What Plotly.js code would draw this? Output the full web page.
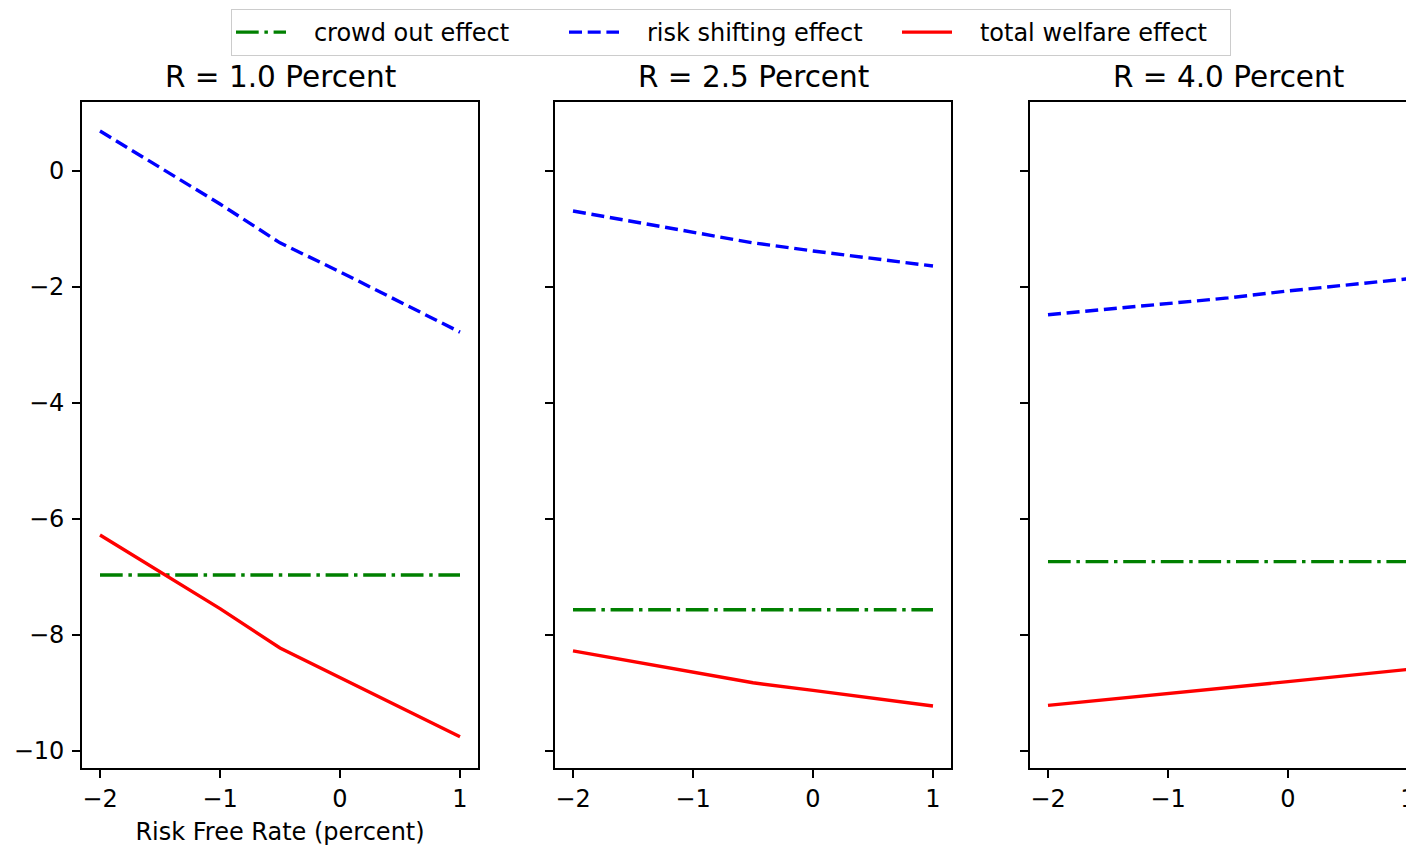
<!DOCTYPE html>
<html>
<head>
<meta charset="utf-8">
<script src="https://cdn.plot.ly/plotly-3.0.1.min.js"></script>
<style>
  html, body { margin: 0; padding: 0; overflow: hidden; background: #ffffff; }
</style>
</head>
<body>
<div id="chart"></div>
<script>
// Risk free rate grid (percent)
const riskFreeRate = [-2, -1, -0.5, 0, 1];

// Panel titles, one per equity return assumption
const panelTitles = ['R = 1.0 Percent', 'R = 2.5 Percent', 'R = 4.0 Percent'];

// Series names
const seriesNames = ['crowd out effect', 'risk shifting effect', 'total welfare effect'];

// R = 1.0 percent
const crowdOutR1 = [-6.97, -6.97, -6.97, -6.97, -6.97];
const riskShiftR1 = [0.69, -0.57, -1.24, -1.74, -2.78];
const totalR1 = [-6.28, -7.55, -8.23, -8.74, -9.76];

// R = 2.5 percent
const crowdOutR2 = [-7.57, -7.57, -7.57, -7.57, -7.57];
const riskShiftR2 = [-0.69, -1.05, -1.24, -1.38, -1.64];
const totalR2 = [-8.28, -8.64, -8.83, -8.96, -9.23];

// R = 4.0 percent
const crowdOutR3 = [-6.74, -6.74, -6.74, -6.74, -6.74];
const riskShiftR3 = [-2.48, -2.29, -2.19, -2.07, -1.86];
const totalR3 = [-9.22, -9.02, -8.91, -8.81, -8.60];

const xTicks = [-2, -1, 0, 1];
const yTicks = [0, -2, -4, -6, -8, -10];

const FONT = 'DejaVu Sans, Liberation Sans, sans-serif';
const lineW = 3.4;
const styles = [
  { color: '#008000', dash: '22.7px,5.7px,3.5px,5.7px' },
  { color: '#0000ff', dash: '13px,5.7px' },
  { color: '#ff0000', dash: 'solid' }
];

// gap between a legend handle and its label
const legendGap = '\u00a0\u00a0\u00a0';

const panels = [
  [crowdOutR1, riskShiftR1, totalR1],
  [crowdOutR2, riskShiftR2, totalR2],
  [crowdOutR3, riskShiftR3, totalR3]
];

const traces = [];
panels.forEach((series, p) => {
  const suffix = p === 0 ? '' : String(p + 1);
  series.forEach((vals, s) => {
    traces.push({
      type: 'scatter',
      mode: 'lines',
      x: riskFreeRate,
      y: vals,
      name: legendGap + seriesNames[s],
      legendgroup: seriesNames[s],
      showlegend: p === 0,
      xaxis: 'x' + suffix,
      yaxis: 'y' + suffix,
      line: { color: styles[s].color, width: lineW, dash: styles[s].dash },
      hoverinfo: 'skip'
    });
  });
});

const W = 1440, H = 846;
const L = 82, R = 14, T = 102, B = 78;
const plotW = W - L - R;
const plotH = H - T - B;
const px = v => (v - L) / plotW;        // pixel x -> paper
const py = v => (H - B - v) / plotH;    // pixel y -> paper

const domains = [
  [px(82), px(478)],
  [px(555), px(951)],
  [px(1030), px(1426)]
];

const axisCommon = {
  showline: true,
  mirror: true,
  linecolor: '#000000',
  linewidth: 1.9,
  ticks: 'outside',
  ticklen: 8,
  tickwidth: 1.9,
  tickcolor: '#000000',
  showgrid: false,
  zeroline: false,
  tickfont: { family: FONT, size: 24, color: '#000000' }
};

const layout = {
  width: W,
  height: H,
  margin: { l: L, r: R, t: T, b: B, pad: 0, autoexpand: false },
  paper_bgcolor: '#ffffff',
  plot_bgcolor: '#ffffff',
  font: { family: FONT, size: 24, color: '#000000' },
  showlegend: true,
  legend: {
    orientation: 'h',
    x: px(731),
    xanchor: 'center',
    y: py(9),
    yanchor: 'top',
    bgcolor: 'rgba(255,255,255,0.8)',
    bordercolor: '#cccccc',
    borderwidth: 1,
    font: { family: FONT, size: 24, color: '#000000' },
    itemwidth: 50,
    entrywidth: 268,
    entrywidthmode: 'pixels'
  },
  annotations: panelTitles.map((t, i) => ({
    text: t,
    xref: 'paper',
    yref: 'paper',
    x: (domains[i][0] + domains[i][1]) / 2,
    y: py(77),
    xanchor: 'center',
    yanchor: 'middle',
    showarrow: false,
    font: { family: FONT, size: 29.5, color: '#000000' }
  }))
};

domains.forEach((d, i) => {
  const suffix = i === 0 ? '' : String(i + 1);
  layout['xaxis' + suffix] = Object.assign({}, axisCommon, {
    domain: d,
    anchor: 'y' + suffix,
    range: [-2.15, 1.15],
    tickmode: 'array',
    tickvals: xTicks,
    title: i === 0 ? { text: 'Risk Free Rate (percent)', font: { family: FONT, size: 24, color: '#000000' }, standoff: 11 } : { text: '' }
  });
  layout['yaxis' + suffix] = Object.assign({}, axisCommon, {
    domain: [0, 1],
    anchor: 'x' + suffix,
    range: [-10.3, 1.19],
    tickmode: 'array',
    tickvals: yTicks,
    ticklabelstandoff: 3,
    showticklabels: i === 0
  });
  if (i > 0) layout['yaxis' + suffix].matches = 'y';
});

Plotly.newPlot('chart', traces, layout, { staticPlot: true, displayModeBar: false });
</script>
</body>
</html>
